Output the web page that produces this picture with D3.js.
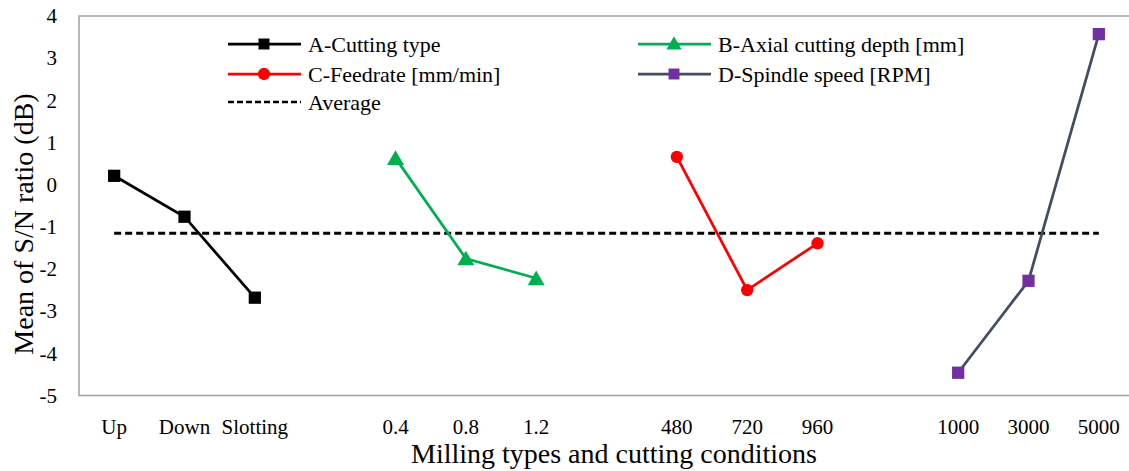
<!DOCTYPE html>
<html>
<head>
<meta charset="utf-8">
<script src="https://cdn.jsdelivr.net/npm/d3@7"></script>
<style>
  html, body { margin: 0; padding: 0; background: #fff; }
</style>
</head>
<body>
<svg id="chart" width="1129" height="471"></svg>
<script>
(function () {
    'use strict';

    // category slots along x, blank slots separate the factor groups
    var categories = ['Up', 'Down', 'Slotting', '',
                      '0.4', '0.8', '1.2', '',
                      '480', '720', '960', '',
                      '1000', '3000', '5000'];

    var cuttingType = [0.21, -0.76, -2.68];
    var axialDepth = [0.63, -1.75, -2.22];
    var feedrate = [0.66, -2.50, -1.39];
    var spindleSpeed = [-4.46, -2.28, 3.57];
    var average = -1.15;

    var yTicks = [-5, -4, -3, -2, -1, 0, 1, 2, 3, 4];

    var FONT = '"Liberation Serif", "Times New Roman", Tinos, "DejaVu Serif", serif';

    var series = [
        { name: 'A-Cutting type', start: 0, values: cuttingType,
          line: '#000000', fill: '#000000', shape: 'square' },
        { name: 'B-Axial cutting depth [mm]', start: 4, values: axialDepth,
          line: '#00b050', fill: '#00b050', shape: 'triangle' },
        { name: 'C-Feedrate [mm/min]', start: 8, values: feedrate,
          line: '#ff0000', fill: '#ff0000', shape: 'circle' },
        { name: 'D-Spindle speed [RPM]', start: 12, values: spindleSpeed,
          line: '#414e61', fill: '#7030a0', shape: 'square' }
    ];

    var svg = d3.select('#chart'),
        left = 79, right = 1134, top = 16, bottom = 395.5;

    var x = d3.scaleBand()
        .domain(d3.range(categories.length))
        .range([left, right]);

    var y = d3.scaleLinear()
        .domain([-5, 4])
        .range([bottom, top]);

    function cx(i) {
        return x(i) + x.bandwidth() / 2;
    }

    function marker(shape, size) {
        var type = shape === 'square' ? d3.symbolSquare :
                   shape === 'triangle' ? d3.symbolTriangle : d3.symbolCircle;
        return d3.symbol().type(type).size(size)();
    }

    var markerSize = { square: 150, triangle: 125, circle: 120 };

    // plot frame
    svg.append('path')
        .attr('d', 'M' + right + ',' + top + 'H' + left + 'V' + bottom + 'H' + right)
        .style('fill', 'none')
        .style('stroke', '#a0a0a0')
        .style('stroke-width', 1.5);

    var yAxis = svg.append('g')
        .attr('transform', 'translate(' + left + ',0)')
        .call(d3.axisLeft(y).tickValues(yTicks).tickSize(0).tickPadding(22)
              .tickFormat(function (d) { return String(d); }));
    yAxis.select('.domain').remove();
    yAxis.attr('font-family', null).attr('font-size', null);
    yAxis.selectAll('text')
        .style('font-family', FONT)
        .style('font-size', '21px');

    var xAxis = svg.append('g')
        .attr('transform', 'translate(0,' + bottom + ')')
        .call(d3.axisBottom(x).tickSize(0).tickPadding(24)
              .tickFormat(function (i) { return categories[i]; }));
    xAxis.select('.domain').remove();
    xAxis.attr('font-family', null).attr('font-size', null);
    xAxis.selectAll('text')
        .style('font-family', FONT)
        .style('font-size', '21px');

    // average line
    svg.append('line')
        .attr('x1', cx(0))
        .attr('x2', cx(categories.length - 1))
        .attr('y1', y(average))
        .attr('y2', y(average))
        .style('stroke', '#000')
        .style('stroke-width', 3)
        .style('stroke-dasharray', '7,4');

    var line = d3.line()
        .x(function (d) { return d.x; })
        .y(function (d) { return d.y; });

    series.forEach(function (s) {
        var pts = s.values.map(function (v, i) {
            return { x: cx(s.start + i), y: y(v) };
        });
        svg.append('path')
            .datum(pts)
            .attr('d', line)
            .style('fill', 'none')
            .style('stroke', s.line)
            .style('stroke-width', 2.75);
        svg.selectAll(null)
            .data(pts)
            .enter().append('path')
            .attr('d', marker(s.shape, markerSize[s.shape]))
            .attr('transform', function (d) {
                var dy = s.shape === 'triangle' ? 2 : 0;
                return 'translate(' + d.x + ',' + (d.y + dy) + ')';
            })
            .style('fill', s.fill);
    });

    // legend, two columns
    var legendItems = [
        { s: series[0], x: 228, y: 44 },
        { s: series[2], x: 228, y: 74 },
        { s: null, x: 228, y: 102, name: 'Average' },
        { s: series[1], x: 638, y: 44 },
        { s: series[3], x: 638, y: 74 }
    ];

    legendItems.forEach(function (item) {
        var g = svg.append('g').attr('transform', 'translate(' + item.x + ',' + item.y + ')');
        if (item.s) {
            g.append('line')
                .attr('x1', 0).attr('x2', 73)
                .style('stroke', item.s.line)
                .style('stroke-width', 2.75);
            g.append('path')
                .attr('d', marker(item.s.shape, item.s.shape === 'triangle' ? 100 : 120))
                .attr('transform', 'translate(36,' + (item.s.shape === 'triangle' ? 1 : 0) + ')')
                .style('fill', item.s.fill);
        } else {
            g.append('line')
                .attr('x1', 0).attr('x2', 73)
                .style('stroke', '#000')
                .style('stroke-width', 2.5)
                .style('stroke-dasharray', '6,3');
        }
        g.append('text')
            .attr('x', 80)
            .attr('dy', '0.35em')
            .style('font-family', FONT)
            .style('font-size', '22px')
            .text(item.s ? item.s.name : item.name);
    });

    // axis titles
    svg.append('text')
        .attr('x', 614)
        .attr('y', 463)
        .attr('text-anchor', 'middle')
        .style('font-family', FONT)
        .style('font-size', '28px')
        .text('Milling types and cutting conditions');

    svg.append('text')
        .attr('transform', 'translate(33,224) rotate(-90)')
        .attr('text-anchor', 'middle')
        .style('font-family', FONT)
        .style('font-size', '28px')
        .text('Mean of S/N ratio (dB)');
})();
</script>
</body>
</html>
